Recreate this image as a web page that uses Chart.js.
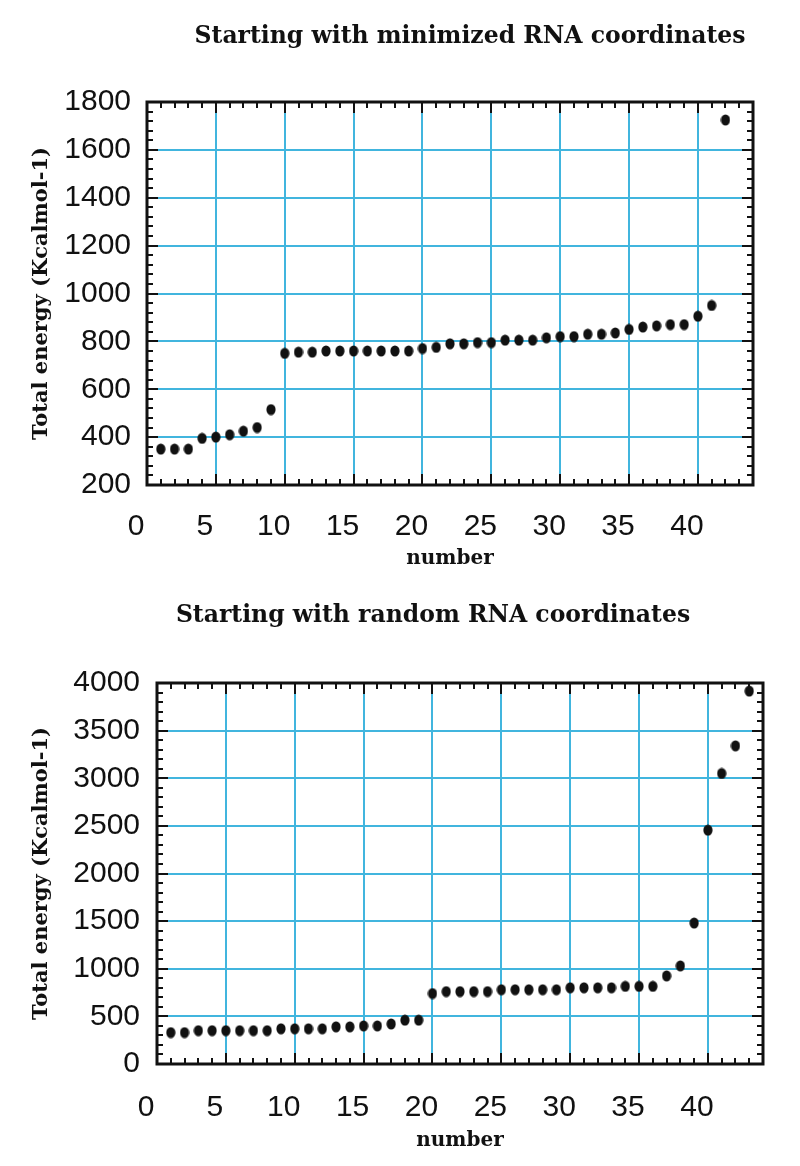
<!DOCTYPE html>
<html><head><meta charset="utf-8">
<script src="https://cdn.jsdelivr.net/npm/chart.js@4.4.1/dist/chart.umd.min.js"></script>
<style>
html,body{margin:0;padding:0;background:#fff;width:800px;height:1166px;overflow:hidden}
.wrap{position:absolute;left:0;width:800px;height:583px}
</style></head><body>
<div class="wrap" style="top:0"><canvas id="c1"></canvas></div>
<div class="wrap" style="top:583px"><canvas id="c2"></canvas></div>
<script>
// ---- data ----
const topTitle = 'Starting with minimized RNA coordinates';
const bottomTitle = 'Starting with random RNA coordinates';
const xAxisTitle = 'number';
const yAxisTitle = 'Total energy (Kcalmol-1)';

const topNumbers = [1,2,3,4,5,6,7,8,9,10,11,12,13,14,15,16,17,18,19,20,21,22,23,24,25,26,27,28,29,30,31,32,33,34,35,36,37,38,39,40,41,42];
const topEnergy = [350,350,350,395,400,410,425,440,515,750,755,755,760,760,760,760,760,760,760,770,775,790,790,795,795,805,805,805,815,820,820,830,830,835,850,860,865,870,870,905,950,1725];

const bottomNumbers = [1,2,3,4,5,6,7,8,9,10,11,12,13,14,15,16,17,18,19,20,21,22,23,24,25,26,27,28,29,30,31,32,33,34,35,36,37,38,39,40,41,42,43];
const bottomEnergy = [330,330,350,350,350,350,350,350,370,370,370,370,390,390,400,400,420,460,460,740,760,760,760,760,780,780,780,780,780,800,800,800,800,815,815,815,925,1030,1480,2455,3050,3340,3915];

const xTickLabels = [0,5,10,15,20,25,30,35,40];
const topYTicks = [200,400,600,800,1000,1200,1400,1600,1800];
const bottomYTicks = [0,500,1000,1500,2000,2500,3000,3500,4000];

// ---- styling ----
const BLUE = '#41b5de';
const INK = '#111111';
const SANS = '"Liberation Sans", Arial, sans-serif';
const SERIF = '"DejaVu Serif", serif';

function makeDot() {
  const c = document.createElement('canvas');
  c.width = 10; c.height = 12;
  const g = c.getContext('2d');
  g.fillStyle = INK;
  g.beginPath();
  g.ellipse(5, 6, 4.6, 5.6, 0, 0, Math.PI * 2);
  g.fill();
  return c;
}
const dot = makeDot();

const frameTicks = {
  id: 'frameTicks',
  afterDraw(chart, args, o) {
    const {ctx, chartArea: a, scales: {x, y}} = chart;
    ctx.save();
    ctx.strokeStyle = INK;
    ctx.lineWidth = 2;
    ctx.beginPath();
    for (let v = x.min; v <= x.max + 1e-6; v += o.xMinor) {
      const px = Math.round(x.getPixelForValue(v));
      const len = ((v - x.min) % o.xMajor === 0) ? o.major : o.minor;
      ctx.moveTo(px, a.bottom); ctx.lineTo(px, a.bottom - len);
      ctx.moveTo(px, a.top); ctx.lineTo(px, a.top + len);
    }
    for (let v = y.min; v <= y.max + 1e-6; v += o.yMinor) {
      const py = Math.round(y.getPixelForValue(v));
      const len = ((v - y.min) % o.yMajor === 0) ? o.major : o.minor;
      ctx.moveTo(a.left, py); ctx.lineTo(a.left + len, py);
      ctx.moveTo(a.right, py); ctx.lineTo(a.right - len, py);
    }
    ctx.stroke();
    ctx.lineWidth = 3;
    ctx.strokeRect(a.left, a.top, a.right - a.left, a.bottom - a.top);
    ctx.restore();
  }
};

const headTitle = {
  id: 'headTitle',
  afterDraw(chart, args, o) {
    const ctx = chart.ctx;
    ctx.save();
    ctx.font = o.font;
    ctx.fillStyle = INK;
    ctx.textAlign = 'center';
    ctx.textBaseline = 'middle';
    ctx.fillText(o.text, o.x, o.y);
    ctx.restore();
  }
};

function build(id, cfg) {
  return new Chart(document.getElementById(id), {
    type: 'scatter',
    data: {
      datasets: [{
        data: cfg.numbers.map((n, i) => ({x: n, y: cfg.energy[i]})),
        pointStyle: dot,
        pointRadius: 5,
        pointHoverRadius: 5
      }]
    },
    options: {
      responsive: true,
      maintainAspectRatio: false,
      animation: false,
      devicePixelRatio: 1,
      layout: {padding: {top: cfg.padTop, right: cfg.padRight, bottom: 0, left: 0}},
      plugins: {
        legend: {display: false},
        tooltip: {enabled: false},
        headTitle: {text: cfg.title, x: cfg.titleX, y: cfg.titleY, font: 'bold 23.5px ' + SERIF},
        frameTicks: {xMinor: 1, xMajor: 5, yMinor: cfg.yMinor, yMajor: cfg.yMajor, minor: 6, major: 11}
      },
      scales: {
        x: {
          type: 'linear', min: 0, max: 44,
          afterBuildTicks: s => { s.ticks = xTickLabels.map(v => ({value: v})); },
          afterFit: s => { s.height = cfg.xHeight; },
          grid: {color: BLUE, lineWidth: 2, drawTicks: false},
          border: {display: false},
          ticks: {font: {family: SANS, size: 30}, color: INK, padding: cfg.xPad, labelOffset: -11, maxRotation: 0, autoSkip: false,
                  callback: v => String(v)},
          title: {display: true, text: xAxisTitle, color: INK, font: {family: SERIF, size: 20, weight: 'bold'}, padding: {top: 0, bottom: cfg.xTitlePad}}
        },
        y: {
          type: 'linear', min: cfg.yTicks[0], max: cfg.yTicks[cfg.yTicks.length - 1],
          afterBuildTicks: s => { s.ticks = cfg.yTicks.map(v => ({value: v})); },
          afterFit: s => { s.width = cfg.yWidth; },
          grid: {color: BLUE, lineWidth: 2, drawTicks: false},
          border: {display: false},
          ticks: {font: {family: SANS, size: 30}, color: INK, padding: cfg.yPad, callback: v => String(v)},
          title: {display: true, text: yAxisTitle, color: INK, font: {family: SERIF, size: 21, weight: 'bold'}, padding: {top: cfg.yTitlePad, bottom: 0}}
        }
      }
    },
    plugins: [frameTicks, headTitle]
  });
}

build('c1', {
  numbers: topNumbers, energy: topEnergy, yTicks: topYTicks,
  title: topTitle, titleX: 470, titleY: 37,
  padTop: 102, padRight: 47, xHeight: 98, yWidth: 147,
  xPad: 24, xTitlePad: 12, yPad: 16, yTitlePad: 29,
  yMinor: 40, yMajor: 200
});
build('c2', {
  numbers: bottomNumbers, energy: bottomEnergy, yTicks: bottomYTicks,
  title: bottomTitle, titleX: 433, titleY: 33,
  padTop: 100, padRight: 37, xHeight: 102, yWidth: 157,
  xPad: 26, xTitlePad: 13, yPad: 17, yTitlePad: 29,
  yMinor: 100, yMajor: 500
});
</script>
</body></html>
